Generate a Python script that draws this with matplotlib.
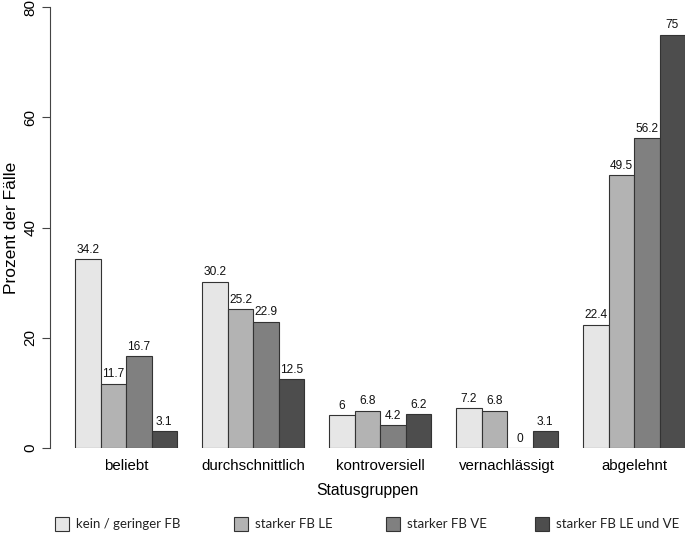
import matplotlib.pyplot as plt
import numpy as np
from matplotlib.patches import Rectangle

kategorien = ['beliebt', 'durchschnittlich', 'kontroversiell', 'vernachlässigt', 'abgelehnt']
serien = ['kein / geringer FB', 'starker FB LE', 'starker FB VE', 'starker FB LE und VE']
kein_fb = [34.2, 30.2, 6, 7.2, 22.4]
fb_le = [11.7, 25.2, 6.8, 6.8, 49.5]
fb_ve = [16.7, 22.9, 4.2, 0, 56.2]
fb_le_ve = [3.1, 12.5, 6.2, 3.1, 75]
werte = [kein_fb, fb_le, fb_ve, fb_le_ve]
labels = [['34.2', '30.2', '6', '7.2', '22.4'],
          ['11.7', '25.2', '6.8', '6.8', '49.5'],
          ['16.7', '22.9', '4.2', '0', '56.2'],
          ['3.1', '12.5', '6.2', '3.1', '75']]

farben = ['#e6e6e6', '#b3b3b3', '#808080', '#4d4d4d']

plt.rcParams['font.family'] = ['Liberation Sans', 'DejaVu Sans']

fig = plt.figure(figsize=(6.85, 5.34), dpi=100)
ax = fig.add_axes([50 / 685, 1 - 448 / 534, 1 - 50 / 685, 441 / 534])

# R barplot style: space 1 before each group, 4 bars of width 1
x0 = np.arange(len(kategorien)) * 5 + 1
for i in range(4):
    xs = x0 + i + 0.5
    ax.bar(xs, werte[i], width=1, color=farben[i], edgecolor='#333333', linewidth=0.8)
    for x, v, t in zip(xs, werte[i], labels[i]):
        ax.text(x, v + 0.6, t, ha='center', va='bottom', fontsize=8.6, color='#111111')

ax.set_xlim(0, 25)
ax.set_ylim(0, 80)
ax.set_xticks(x0 + 2)
ax.set_xticklabels(kategorien, fontsize=10.8)
ax.tick_params(axis='x', length=0, pad=8)
ax.set_yticks([0, 20, 40, 60, 80])
ax.set_yticklabels(['0', '20', '40', '60', '80'], rotation=90, va='center', fontsize=11)
ax.tick_params(axis='y', length=6, width=0.8, color='#444444', pad=3)
for s in ['top', 'right', 'bottom']:
    ax.spines[s].set_visible(False)
ax.spines['left'].set_color('#444444')
ax.spines['left'].set_linewidth(0.8)
ax.set_ylabel('Prozent der Fälle', fontsize=12.5, labelpad=3)
ax.set_xlabel('Statusgruppen', fontsize=11.3, labelpad=7)

# legend below
lx = [55, 234, 386, 535]
for i in range(4):
    fig.patches.append(Rectangle((lx[i] / 685, 1 - 531 / 534), 14 / 685, 14 / 534,
                                 transform=fig.transFigure, facecolor=farben[i],
                                 edgecolor='#333333', linewidth=0.8))
    fig.text((lx[i] + 21) / 685, 1 - 524 / 534, serien[i], fontsize=9.5,
             va='center', ha='left', family=['Lato', 'DejaVu Sans'], color='#222222')

fig.savefig('out.png', dpi=100)
